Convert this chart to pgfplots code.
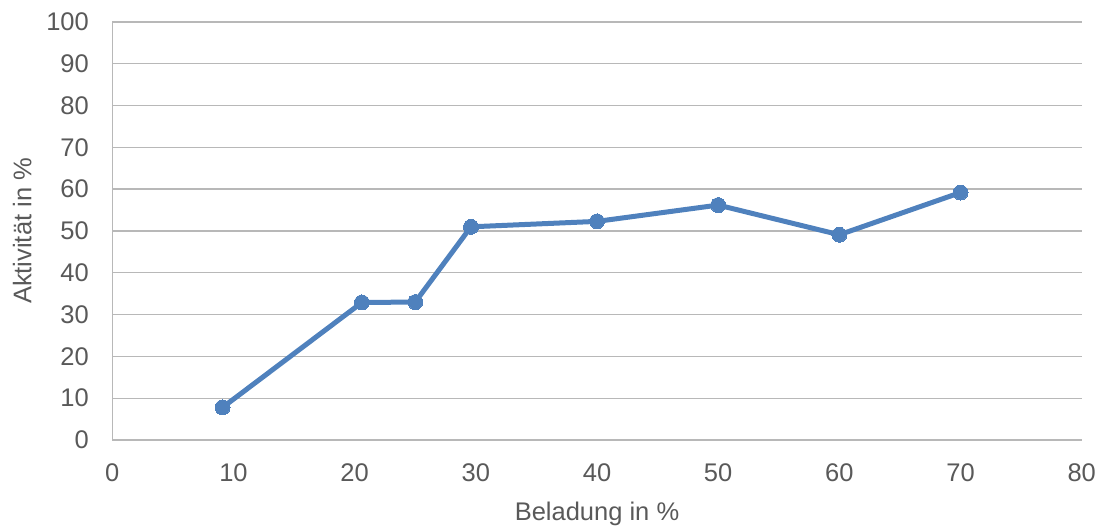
\documentclass[border=0pt]{standalone}
\usepackage{pgfplots}
\pgfplotsset{compat=1.18}
\usepackage{fontspec}
\setmainfont{Liberation Sans}
\definecolor{serieblue}{HTML}{4F81BD}
\definecolor{gridgray}{HTML}{B8B8B8}
\definecolor{textgray}{HTML}{595959}
\newcommand{\chartfont}{\fontsize{25.5bp}{30bp}\selectfont}

\begin{document}
\begin{tikzpicture}
% page frame
\path[use as bounding box] (-112.3bp,-86bp) rectangle (989.7bp,440bp);
\begin{axis}[
  at={(0,0)}, anchor=south west,
  scale only axis, width=969.4bp, height=418bp,
  xmin=0, xmax=80, ymin=0, ymax=100,
  xtick={0,10,...,80}, ytick={0,10,...,100},
  axis line style={draw=none},
  tick style={draw=none},
  ymajorgrids,
  major grid style={gridgray, line width=1.4bp},
  /pgf/number format/assume math mode=true,
  tick label style={font=\chartfont, text=textgray, inner sep=0pt},
  yticklabel style={anchor=east, xshift=-23.3bp},
  xticklabel style={anchor=north, yshift=-23.3bp},
  xlabel={Beladung in \%},
  ylabel={Aktivität in \%},
  label style={font=\chartfont, text=textgray, inner sep=0pt},
  xlabel style={at={(axis description cs:0.5,-0.177)}, anchor=center},
  ylabel style={at={(axis description cs:-0.0928,0.5)}, anchor=center, rotate=0},
  clip=false,
]
\draw[gridgray, line width=1.4bp] (rel axis cs:0,0) -- (rel axis cs:0,1);
\addplot[serieblue, line width=5bp, mark=*, mark size=7.5bp,
  mark options={fill=serieblue, draw=serieblue, line width=0pt}]
  coordinates {
  (9.1,7.8) (20.6,32.9) (25.0,33.0) (29.6,51.0)
  (40.0,52.3) (50.0,56.2) (60.0,49.1) (70.0,59.2)
};
\end{axis}
\end{tikzpicture}
\end{document}
